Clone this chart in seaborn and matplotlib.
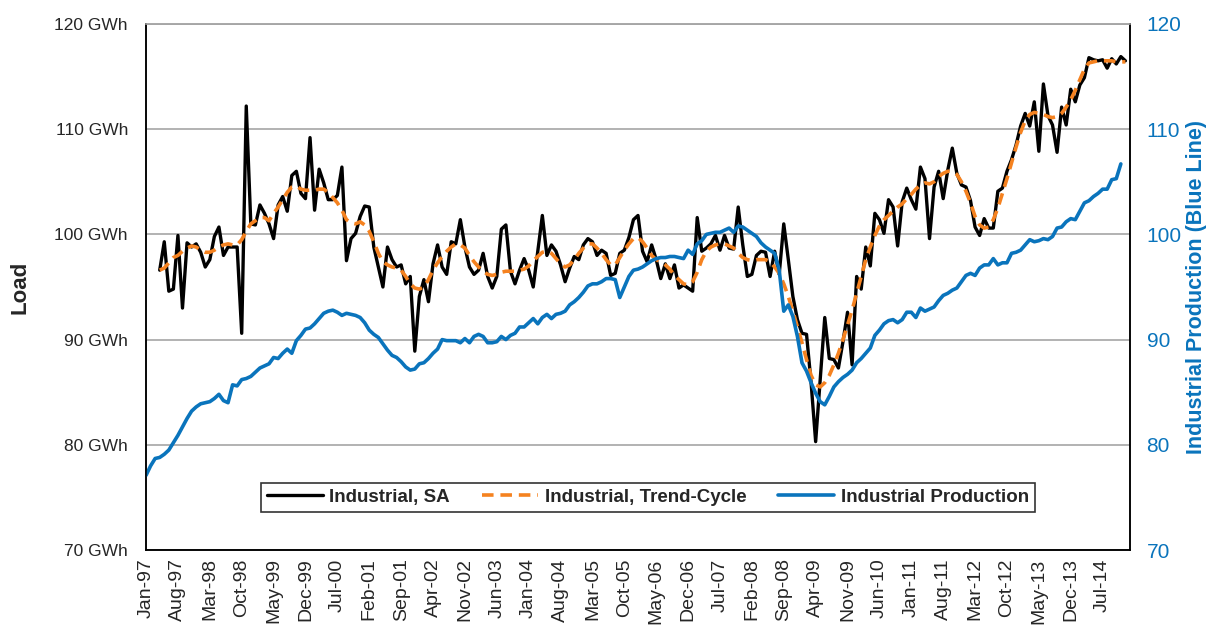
import matplotlib
matplotlib.use('Agg')
import matplotlib.pyplot as plt
import numpy as np
import pandas as pd
import seaborn as sns

nan = np.nan

# monthly data, Jan-97 .. Dec-14
months = pd.date_range('1997-01-01', periods=216, freq='MS')

industrial_sa = [
    nan, nan, nan, 96.6, 99.3, 94.6, 94.8, 99.9, 93.0, 99.2, 98.8, 99.1,
    98.3, 96.9, 97.6, 99.8, 100.7, 98.0, 98.8, 98.8, 98.8, 90.6, 112.2, 101.0,
    100.9, 102.8, 102.0, 101.0, 99.6, 102.8, 103.6, 102.2, 105.6, 106.0, 103.9, 103.4,
    109.2, 102.3, 106.2, 104.9, 103.3, 103.3, 103.7, 106.4, 97.5, 99.6, 100.1, 101.7,
    102.7, 102.6, 98.8, 96.9, 95.0, 98.8, 97.6, 96.9, 97.1, 95.3, 96.0, 88.9,
    94.1, 95.7, 93.6, 97.2, 99.0, 96.9, 96.2, 99.3, 99.1, 101.4, 98.8, 96.9,
    96.2, 96.6, 98.2, 96.0, 94.9, 96.0, 100.5, 100.9, 96.5, 95.3, 96.6, 97.7,
    96.6, 95.0, 98.4, 101.8, 98.0, 99.0, 98.4, 97.1, 95.5, 96.8, 97.9, 97.6,
    99.0, 99.6, 99.3, 98.0, 98.5, 98.2, 96.1, 96.3, 98.2, 98.5, 99.7, 101.4,
    101.8, 98.4, 97.4, 99.0, 97.6, 95.8, 97.2, 95.8, 97.1, 94.9, 95.2, 94.9,
    94.6, 101.6, 98.4, 98.7, 99.1, 99.9, 98.5, 99.9, 98.7, 98.6, 102.6, 99.0,
    96.0, 96.2, 98.0, 98.4, 98.3, 96.0, 98.4, 96.2, 101.0, 97.6, 94.1, 91.9,
    90.6, 90.5, 85.9, 80.3, 86.2, 92.1, 88.2, 88.1, 87.3, 89.8, 92.6, 87.6,
    96.0, 94.8, 98.8, 97.0, 102.0, 101.4, 100.1, 103.3, 102.6, 98.9, 103.1, 104.4,
    103.3, 102.4, 106.4, 105.3, 99.6, 104.5, 106.0, 103.4, 106.1, 108.2, 105.8, 104.7,
    104.5, 103.2, 100.7, 99.9, 101.5, 100.6, 100.6, 104.1, 104.4, 106.0, 107.1, 108.5,
    110.3, 111.5, 110.3, 112.6, 107.9, 114.3, 111.3, 110.4, 107.8, 112.1, 110.4, 113.8,
    112.6, 114.2, 114.9, 116.8, 116.6, 116.5, 116.6, 115.8, 116.7, 116.2, 116.9, 116.5,
]

trend_cycle = [
    nan, nan, nan, 96.6, 96.8, 97.3, 97.8, 98.0, 98.4, 98.7, 98.9, 98.8,
    98.5, 98.3, 98.3, 98.5, 98.8, 99.0, 99.1, 99.0, 99.0, 99.5, 100.3, 101.0,
    101.3, 101.6, 101.6, 101.3, 102.0, 102.6, 103.3, 104.0, 104.5, 104.6, 104.3, 104.2,
    104.2, 104.2, 104.3, 104.3, 104.0, 103.5, 103.0, 102.3, 101.4, 101.1, 101.0, 101.2,
    100.9, 100.3, 99.3, 98.2, 97.4, 97.1, 96.9, 96.8, 96.6, 96.0, 95.3, 94.9,
    94.8, 95.0, 95.7, 96.6, 97.3, 97.9, 98.4, 98.8, 99.1, 99.0, 98.7, 98.0,
    97.4, 96.9, 96.5, 96.2, 96.1, 96.2, 96.4, 96.5, 96.5, 96.5, 96.6, 96.7,
    97.0, 97.5, 97.9, 98.3, 98.4, 98.2, 97.7, 97.2, 96.9, 97.1, 97.6, 98.2,
    98.7, 99.1, 99.1, 98.7, 98.2, 97.6, 97.1, 97.1, 97.8, 98.5, 99.1, 99.6,
    99.7, 99.3, 98.7, 98.0, 97.6, 97.4, 97.1, 96.7, 96.1, 95.7, 95.3, 95.2,
    95.5, 96.4, 97.6, 98.4, 98.8, 99.0, 99.1, 99.1, 98.9, 98.7, 98.2, 97.8,
    97.6, 97.5, 97.6, 97.6, 97.6, 97.4, 96.9, 96.3, 95.3, 94.1, 92.7, 91.2,
    89.7, 88.1, 86.6, 85.7, 85.5, 85.9, 86.6, 87.6, 88.7, 90.0, 91.4, 92.8,
    94.4, 96.0, 97.6, 98.8, 99.9, 100.8, 101.4, 101.8, 102.2, 102.6, 102.9, 103.4,
    103.8, 104.3, 104.7, 104.9, 104.8, 105.0, 105.5, 105.8, 106.0, 106.0, 105.7, 105.0,
    104.1, 103.0, 101.7, 100.9, 100.6, 100.7, 101.4, 102.5, 103.9, 105.3, 106.8, 108.3,
    109.7, 110.8, 111.4, 111.6, 111.5, 111.4, 111.2, 111.1, 111.2, 111.5, 112.1, 112.8,
    113.7, 114.7, 115.7, 116.3, 116.4, 116.5, 116.5, 116.5, 116.5, 116.4, 116.4, 116.4,
]

industrial_production = [
    77.1, 78.0, 78.7, 78.8, 79.1, 79.5, 80.2, 80.9, 81.7, 82.5, 83.2, 83.6,
    83.9, 84.0, 84.1, 84.4, 84.8, 84.2, 84.0, 85.7, 85.6, 86.2, 86.3, 86.5,
    86.9, 87.3, 87.5, 87.7, 88.3, 88.2, 88.7, 89.1, 88.7, 89.9, 90.4, 91.0,
    91.1, 91.5, 92.0, 92.5, 92.7, 92.8, 92.6, 92.3, 92.5, 92.4, 92.3, 92.1,
    91.6, 90.9, 90.5, 90.2, 89.6, 89.0, 88.5, 88.3, 87.9, 87.4, 87.1, 87.2,
    87.7, 87.8, 88.2, 88.7, 89.1, 90.0, 89.9, 89.9, 89.9, 89.7, 90.1, 89.7,
    90.3, 90.5, 90.3, 89.7, 89.7, 89.8, 90.3, 90.0, 90.4, 90.6, 91.2, 91.2,
    91.6, 92.0, 91.5, 92.1, 92.4, 92.0, 92.4, 92.5, 92.7, 93.3, 93.6, 94.0,
    94.5, 95.1, 95.3, 95.3, 95.5, 95.8, 95.8, 95.7, 94.0, 95.0, 96.0, 96.6,
    96.7, 96.9, 97.2, 97.5, 97.7, 97.8, 97.8, 97.9, 97.9, 97.8, 97.7, 98.5,
    98.1, 99.1, 99.4, 100.0, 100.1, 100.2, 100.2, 100.4, 100.6, 100.2, 100.8, 100.7,
    100.4, 100.1, 99.8, 99.2, 98.8, 98.5, 98.2, 96.6, 92.7, 93.3, 92.2, 90.3,
    87.8, 87.0, 85.9, 84.9, 84.1, 83.8, 84.6, 85.5, 86.0, 86.4, 86.7, 87.1,
    87.8, 88.2, 88.7, 89.2, 90.4, 90.9, 91.5, 91.8, 91.9, 91.6, 91.9, 92.6,
    92.6, 92.1, 93.0, 92.7, 92.9, 93.1, 93.7, 94.2, 94.4, 94.7, 94.9, 95.5,
    96.1, 96.3, 96.1, 96.8, 97.1, 97.1, 97.7, 97.1, 97.3, 97.3, 98.2, 98.3,
    98.5, 99.0, 99.5, 99.3, 99.4, 99.6, 99.5, 99.8, 100.6, 100.7, 101.2, 101.5,
    101.4, 102.2, 103.0, 103.2, 103.6, 103.9, 104.3, 104.3, 105.2, 105.3, 106.7, nan,
]

tick_labels = [d.strftime('%b-%y') for d in months[::7]]

df = pd.DataFrame({
    'idx': np.arange(len(months)),
    'sa': industrial_sa,
    'trend': trend_cycle,
    'ip': industrial_production,
})

BLACK = '#000000'
ORANGE = '#F58220'
BLUE = '#0A74BC'

sns.set_style('white')
plt.rcParams['font.family'] = ['Liberation Sans', 'DejaVu Sans']

fig, ax = plt.subplots(figsize=(12.12, 6.28), dpi=100)
fig.subplots_adjust(left=0.1205, right=0.9323, top=0.9618, bottom=0.1242)

sns.lineplot(data=df, x='idx', y='sa', ax=ax, color=BLACK, lw=2.4,
             label='Industrial, SA', zorder=3)
sns.lineplot(data=df, x='idx', y='trend', ax=ax, color=ORANGE, lw=2.6,
             linestyle=(0, (3.2, 1.9)), label='Industrial, Trend-Cycle', zorder=4)

ax2 = ax.twinx()
sns.lineplot(data=df, x='idx', y='ip', ax=ax2, color=BLUE, lw=2.6,
             label='Industrial Production')

# left axis
ax.set_xlim(0, 216)
ax.set_ylim(70, 120)
yt = np.arange(70, 121, 10)
ax.set_yticks(yt)
ax.set_yticklabels([f'{v} GWh' for v in yt], fontsize=12.5)
ax.set_ylabel('Load', fontsize=16, fontweight='bold', labelpad=17)
ax.set_xlabel('')
ax.set_xticks(np.arange(0, 216, 7))
ax.set_xticklabels(tick_labels, rotation=90, fontsize=14)
ax.tick_params(axis='x', direction='out', length=5, width=1, pad=1)
ax.tick_params(axis='y', length=0, pad=13)
ax.yaxis.grid(True, color='#A6A6A6', lw=1.2)
ax.set_axisbelow(True)

# right axis
ax2.set_ylim(70, 120)
ax2.set_yticks(yt)
ax2.set_yticklabels([str(v) for v in yt], fontsize=15, color=BLUE)
ax2.tick_params(axis='y', length=0, pad=12)
ax2.set_ylabel('Industrial Production (Blue Line)', fontsize=15.5,
               fontweight='bold', color=BLUE, labelpad=3)

for a in (ax, ax2):
    for side in ('left', 'right', 'bottom'):
        a.spines[side].set_color('black')
        a.spines[side].set_linewidth(1.1)
    a.spines['top'].set_color('#A6A6A6')
    a.spines['top'].set_linewidth(1.1)

# combined legend
h1, l1 = ax.get_legend_handles_labels()
h2, l2 = ax2.get_legend_handles_labels()
ax.get_legend().remove()
ax2.get_legend().remove()
leg = ax2.legend(h1 + h2, l1 + l2, loc='center', bbox_to_anchor=(0.51, 0.10),
                 ncol=3, frameon=True, fancybox=False, edgecolor='black',
                 prop={'weight': 'bold', 'size': 13.5}, handlelength=3.0,
                 columnspacing=1.7, borderpad=0.3, handletextpad=0.35)
leg.get_frame().set_linewidth(1.2)

fig.savefig('out.png', dpi=100)
